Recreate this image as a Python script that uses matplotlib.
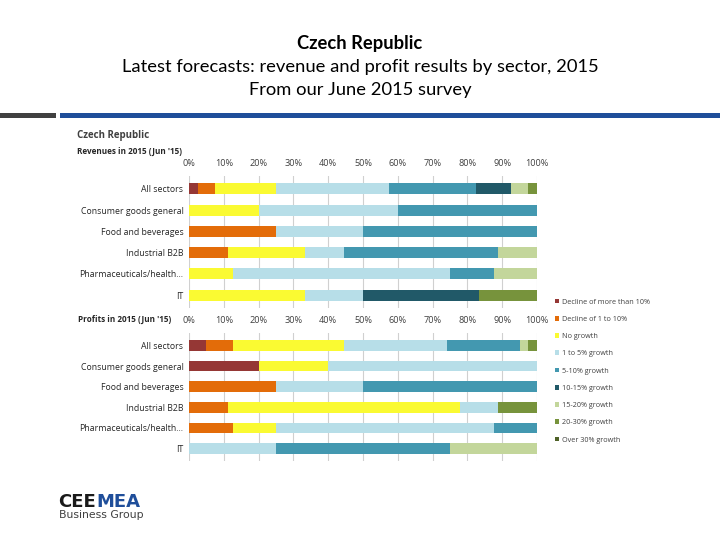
import matplotlib
matplotlib.use("Agg")
import matplotlib.pyplot as plt
import numpy as np
from matplotlib.patches import Rectangle

sectors = ["All sectors", "Consumer goods general", "Food and beverages",
           "Industrial B2B", "Pharmaceuticals/health...", "IT"]
categories = ["Decline of more than 10%", "Decline of 1 to 10%", "No growth",
              "1 to 5% growth", "5-10% growth", "10-15% growth",
              "15-20% growth", "20-30% growth", "Over 30% growth"]
colors = ["#953735", "#E36C09", "#FAFA32", "#B7DEE8", "#4398B0",
          "#215968", "#C3D69B", "#77933C", "#4F6228"]

# Revenues: rows = sectors, columns = categories (percent)
revenues = {
    "Decline of more than 10%": [2.5, 0, 0, 0, 0, 0],
    "Decline of 1 to 10%":      [5, 0, 25, 11.1, 0, 0],
    "No growth":                [17.5, 20, 0, 22.2, 12.5, 33.3],
    "1 to 5% growth":           [32.5, 40, 25, 11.1, 62.5, 16.7],
    "5-10% growth":             [25, 40, 50, 44.5, 12.5, 0],
    "10-15% growth":            [10, 0, 0, 0, 0, 33.3],
    "15-20% growth":            [5, 0, 0, 11.1, 12.5, 0],
    "20-30% growth":            [2.5, 0, 0, 0, 0, 16.7],
    "Over 30% growth":          [0, 0, 0, 0, 0, 0],
}
profits = {
    "Decline of more than 10%": [5, 20, 0, 0, 0, 0],
    "Decline of 1 to 10%":      [7.5, 0, 25, 11.1, 12.5, 0],
    "No growth":                [32, 20, 0, 66.7, 12.5, 0],
    "1 to 5% growth":           [29.5, 60, 25, 11.1, 62.5, 25],
    "5-10% growth":             [21, 0, 50, 0, 12.5, 50],
    "10-15% growth":            [0, 0, 0, 0, 0, 0],
    "15-20% growth":            [2.5, 0, 0, 0, 0, 25],
    "20-30% growth":            [2.5, 0, 0, 11.1, 0, 0],
    "Over 30% growth":          [0, 0, 0, 0, 0, 0],
}
xticks = [0, 10, 20, 30, 40, 50, 60, 70, 80, 90, 100]
xticklabels = ["0%", "10%", "20%", "30%", "40%", "50%", "60%", "70%", "80%", "90%", "100%"]

W, H = 720, 540
fig = plt.figure(figsize=(7.2, 5.4), dpi=100)
FONT = "Open Sans"
TFONT = "Lato"

def px(x0, y0, x1, y1):
    return [x0 / W, 1 - y1 / H, (x1 - x0) / W, (y1 - y0) / H]

# Page title
fig.text(360 / W, 1 - 43 / H, "Czech Republic", ha="center", va="center",
         fontsize=13.2, fontweight="bold", family=TFONT)
fig.text(360 / W, 1 - 67 / H, "Latest forecasts: revenue and profit results by sector, 2015",
         ha="center", va="center", fontsize=13.2, family=TFONT)
fig.text(360 / W, 1 - 90 / H, "From our June 2015 survey",
         ha="center", va="center", fontsize=13.2, family=TFONT)

# Header bars
fig.add_artist(Rectangle((0, 1 - 118 / H), 56 / W, 5 / H, transform=fig.transFigure,
                         color="#404040", lw=0))
fig.add_artist(Rectangle((60 / W, 1 - 118 / H), 660 / W, 5 / H, transform=fig.transFigure,
                         color="#1F4E9A", lw=0))

# Chart headings
fig.text(77 / W, 1 - 136 / H, "Czech Republic", ha="left", va="center",
         fontsize=7, fontweight="bold", family=FONT, color="#404040")
fig.text(77 / W, 1 - 151 / H, "Revenues in 2015 (Jun '15)", ha="left", va="center",
         fontsize=5.9, fontweight="bold", family=FONT, color="#262626")
fig.text(78 / W, 1 - 319 / H, "Profits in 2015 (Jun '15)", ha="left", va="center",
         fontsize=5.9, fontweight="bold", family=FONT, color="#262626")

def draw(ax, data):
    y = np.arange(len(sectors))
    left = np.zeros(len(sectors))
    handles = []
    for cat, col in zip(categories, colors):
        vals = np.array(data[cat], dtype=float)
        h = ax.barh(y, vals, left=left, height=0.52, color=col, lw=0, label=cat, zorder=3)
        handles.append(h)
        left += vals
    ax.set_xlim(0, 100)
    ax.set_ylim(len(sectors) - 0.4, -0.6)
    ax.set_yticks(y)
    ax.set_yticklabels(sectors, fontsize=6.3, family=FONT, color="#262626")
    ax.xaxis.tick_top()
    ax.set_xticks(xticks)
    ax.set_xticklabels(xticklabels, fontsize=6.6, family=FONT, color="#404040")
    ax.tick_params(axis="both", length=0, pad=4)
    ax.tick_params(axis="x", pad=6)
    ax.grid(axis="x", color="#D0D0D0", lw=0.8, zorder=0)
    for s in ax.spines.values():
        s.set_visible(False)
    return handles

ax1 = fig.add_axes(px(189, 176, 537, 308))
draw(ax1, revenues)
ax2 = fig.add_axes(px(189, 333, 537, 461))
handles = draw(ax2, profits)

leg = fig.legend(handles, categories, loc="upper left",
                 bbox_to_anchor=(548 / W, 1 - 292 / H), frameon=False,
                 prop={"family": FONT, "size": 5.2}, handlelength=0.6, handleheight=0.6,
                 handletextpad=0.4, labelspacing=1.42, labelcolor="#404040")

# Logo
renderer = fig.canvas.get_renderer()
t1 = fig.text(58 / W, 1 - 507 / H, "CEE", ha="left", va="baseline", fontsize=13,
              fontweight="bold", family="DejaVu Sans", color="#1a1a1a")
bb = t1.get_window_extent(renderer)
fig.text(bb.x1 / W + 0.5 / W, 1 - 507 / H, "MEA", ha="left", va="baseline", fontsize=13,
         fontweight="bold", family="DejaVu Sans", color="#1F4E9A")
fig.text(59 / W, 1 - 518 / H, "Business Group", ha="left", va="baseline", fontsize=7.8,
         family="DejaVu Sans", color="#404040")

fig.savefig("out.png", dpi=100)
